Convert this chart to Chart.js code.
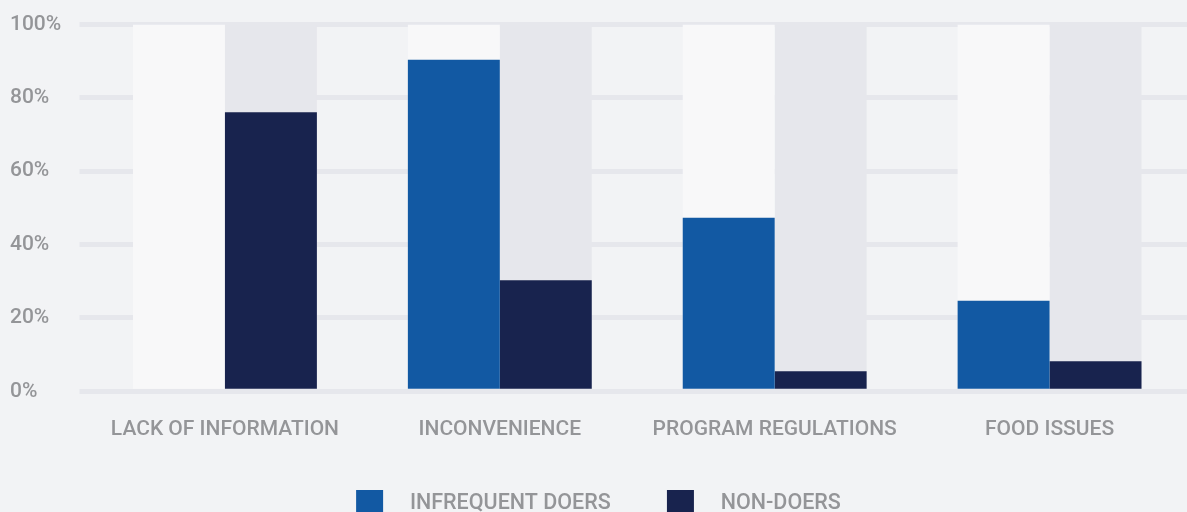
<!DOCTYPE html>
<html>
<head>
  <title>Barriers</title>
  <style>
    html, body {
      margin: 0;
      padding: 0;
      background: #f2f3f5;
      overflow: hidden;
    }
    #wrap {
      position: relative;
      width: 1187px;
      height: 527px;
    }
  </style>
  <script src="https://cdn.jsdelivr.net/npm/chart.js"></script>
</head>
<body>
  <div id="wrap">
    <canvas id="chart"></canvas>
  </div>

  <script>
    const categories = ['LACK OF INFORMATION', 'INCONVENIENCE', 'PROGRAM REGULATIONS', 'FOOD ISSUES'];
    const infrequentDoers = [0, 90.4, 47.3, 24.7];
    const nonDoers = [76.1, 30.3, 5.5, 8.2];
    const trackValues = [100, 100, 100, 100];
    const yTicks = [0, 20, 40, 60, 80, 100];

    const textColor = '#949598';
    const textFont = { family: 'Roboto', size: 21, weight: '500' };

    const ctx = document.getElementById('chart').getContext('2d');
    new Chart(ctx, {
      type: 'bar',
      data: {
        labels: categories,
        datasets: [
          {
            label: 'INFREQUENT DOERS',
            data: infrequentDoers,
            backgroundColor: '#1259a3',
            stack: 'a',
          },
          {
            label: 'NON-DOERS',
            data: nonDoers,
            backgroundColor: '#18234e',
            stack: 'b',
          },
          // grey "100%" tracks behind each bar
          {
            label: 'track',
            data: trackValues,
            backgroundColor: '#f8f8f9',
            stack: 'a',
          },
          {
            label: 'track',
            data: trackValues,
            backgroundColor: '#e6e7ec',
            stack: 'b',
          },
        ],
      },
      options: {
        responsive: true,
        maintainAspectRatio: false,
        animation: false,
        layout: {
          padding: { left: 10, right: 0, top: 24.5, bottom: 0 },
        },
        datasets: {
          bar: {
            barPercentage: 1,
            categoryPercentage: 0.669,
          },
        },
        scales: {
          x: {
            stacked: true,
            grid: { display: false },
            border: { display: false },
            ticks: {
              color: textColor,
              padding: 18,
              font: textFont,
            },
          },
          y: {
            stacked: false,
            min: 0,
            max: 100,
            afterBuildTicks: (scale) => {
              scale.ticks = yTicks.map((v) => ({ value: v }));
            },
            afterFit: (scale) => {
              scale.width = 77.5;
            },
            grid: {
              color: '#e6e7ec',
              lineWidth: 5,
              tickLength: 8,
            },
            border: { display: false },
            ticks: {
              color: textColor,
              crossAlign: 'far',
              font: textFont,
              callback: (value) => value + '%',
            },
          },
        },
        plugins: {
          tooltip: { enabled: false },
          legend: {
            position: 'bottom',
            labels: {
              color: textColor,
              boxWidth: 27,
              boxHeight: 27,
              padding: 29.5,
              font: { family: 'Roboto', size: 21.5, weight: '500' },
              generateLabels: (chart) => {
                const items = Chart.defaults.plugins.legend.labels.generateLabels(chart);
                return items
                  .filter((item) => item.text !== 'track')
                  .map((item, i) => {
                    item.text = '   ' + item.text + (i === 0 ? '     ' : '');
                    item.lineWidth = 0;
                    return item;
                  });
              },
            },
          },
        },
      },
    });
  </script>
</body>
</html>
